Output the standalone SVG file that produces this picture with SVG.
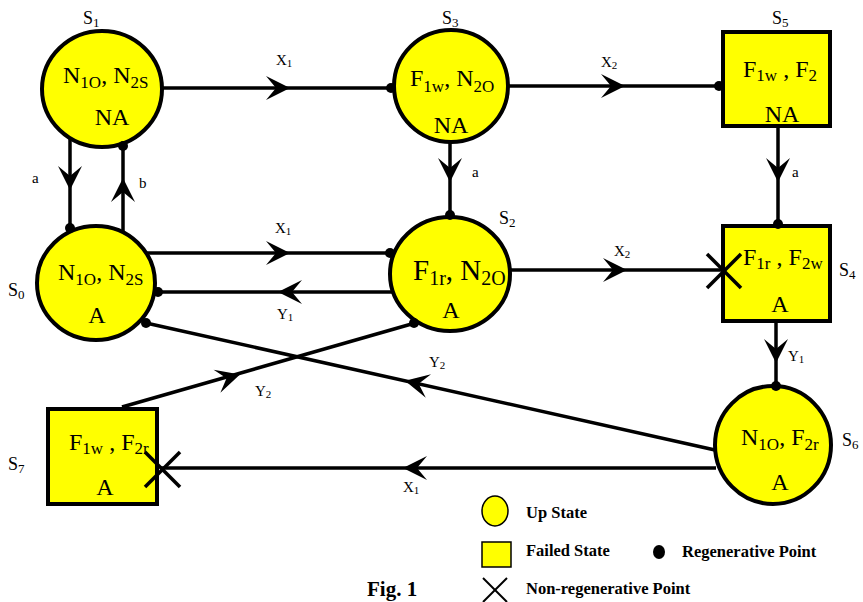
<svg xmlns="http://www.w3.org/2000/svg" xmlns:xlink="http://www.w3.org/1999/xlink" width="863" height="602" viewBox="0 0 863 602">
<style>
.node{fill:#ffff00;stroke:#000;stroke-width:4}
.edge{stroke:#000;stroke-width:3.5;fill:none}
.dot{fill:#000}
.xm{stroke:#000;stroke-width:3.5}
text{font-family:"Liberation Serif","Times New Roman",serif;fill:#000}
.nt{font-size:24px}
.nb{font-size:29px}
.sub{font-size:17px}
.subb{font-size:20px}
.sl{font-size:18px}
.ss{font-size:13px}
.el{font-size:15px}
.es{font-size:11px}
.lg{font-size:16.5px;font-weight:bold}
.fig{font-size:21px;font-weight:bold}
</style>
<defs>
<path id="ah" d="M0,0 L-24,-12 L-14,0 L-24,12 Z" fill="#000"/>
</defs>
<g id="S1">
<ellipse class="node" cx="102" cy="89" rx="60" ry="58"/>
<text class="nt" x="63" y="83">N<tspan class="sub" dy="5">1O</tspan><tspan dy="-5">, N</tspan><tspan class="sub" dy="5">2S</tspan></text>
<text class="nt" x="112" y="125" text-anchor="middle">NA</text>
<text class="sl" x="83" y="24">S<tspan class="ss" dy="3">1</tspan></text>
</g>
<g id="S3">
<ellipse class="node" cx="451" cy="86" rx="57" ry="56"/>
<text class="nt" x="410" y="86">F<tspan class="sub" dy="6">1w</tspan><tspan dy="-6">, N</tspan><tspan class="sub" dy="6">2O</tspan></text>
<text class="nt" x="451" y="133" text-anchor="middle">NA</text>
<text class="sl" x="442" y="24">S<tspan class="ss" dy="3">3</tspan></text>
</g>
<g id="S5">
<rect class="node" x="723" y="32" width="107" height="94"/>
<text class="nt" x="743" y="77">F<tspan class="sub" dy="4">1w</tspan><tspan dy="-4"> , F</tspan><tspan class="sub" dy="4">2</tspan></text>
<text class="nt" x="782" y="122" text-anchor="middle">NA</text>
<text class="sl" x="772" y="24">S<tspan class="ss" dy="3">5</tspan></text>
</g>
<g id="S0">
<ellipse class="node" cx="96" cy="283" rx="59" ry="57"/>
<text class="nt" x="58" y="280">N<tspan class="sub" dy="5">1O</tspan><tspan dy="-5">, N</tspan><tspan class="sub" dy="5">2S</tspan></text>
<text class="nt" x="97" y="323" text-anchor="middle">A</text>
<text class="sl" x="8" y="296">S<tspan class="ss" dy="3">0</tspan></text>
</g>
<g id="S2">
<ellipse class="node" cx="450" cy="274" rx="60" ry="57"/>
<text class="nb" x="413" y="280">F<tspan class="subb" dy="5">1r</tspan><tspan dy="-5">, N</tspan><tspan class="subb" dy="5">2O</tspan></text>
<text class="nt" x="451" y="318" text-anchor="middle">A</text>
<text class="sl" x="499" y="224">S<tspan class="ss" dy="3">2</tspan></text>
</g>
<g id="S4">
<rect class="node" x="723" y="226" width="107" height="95"/>
<text class="nt" x="743" y="265">F<tspan class="sub" dy="4">1r</tspan><tspan dy="-4"> , F</tspan><tspan class="sub" dy="4">2w</tspan></text>
<text class="nt" x="780" y="312" text-anchor="middle">A</text>
<text class="sl" x="839" y="276">S<tspan class="ss" dy="3">4</tspan></text>
</g>
<g id="S6">
<ellipse class="node" cx="773" cy="445" rx="58" ry="59"/>
<text class="nt" x="741" y="445">N<tspan class="sub" dy="5">1O</tspan><tspan dy="-5">, F</tspan><tspan class="sub" dy="5">2r</tspan></text>
<text class="nt" x="780" y="490" text-anchor="middle">A</text>
<text class="sl" x="842" y="446">S<tspan class="ss" dy="3">6</tspan></text>
</g>
<g id="S7">
<rect class="node" x="48" y="409" width="109" height="95"/>
<text class="nt" x="69" y="450">F<tspan class="sub" dy="4">1w</tspan><tspan dy="-4"> , F</tspan><tspan class="sub" dy="4">2r</tspan></text>
<text class="nt" x="105" y="495" text-anchor="middle">A</text>
<text class="sl" x="8" y="470">S<tspan class="ss" dy="3">7</tspan></text>
</g>
<g id="connectors">
<line class="edge" x1="162" y1="88" x2="392" y2="88"/>
<use xlink:href="#ah" transform="translate(290,88)"/>
<circle class="dot" cx="391" cy="88" r="5"/>
<line class="edge" x1="508" y1="86" x2="721" y2="86"/>
<use xlink:href="#ah" transform="translate(625,86)"/>
<circle class="dot" cx="719" cy="86" r="5"/>
<line class="edge" x1="70" y1="139" x2="70" y2="230"/>
<use xlink:href="#ah" transform="translate(70,190) rotate(90)"/>
<circle class="dot" cx="70" cy="228" r="5"/>
<line class="edge" x1="123" y1="231" x2="123" y2="145"/>
<use xlink:href="#ah" transform="translate(123,178) rotate(-90)"/>
<circle class="dot" cx="123" cy="146" r="5"/>
<line class="edge" x1="450" y1="143" x2="450" y2="217"/>
<use xlink:href="#ah" transform="translate(450,182) rotate(90)"/>
<circle class="dot" cx="450" cy="215" r="5"/>
<line class="edge" x1="778" y1="128" x2="778" y2="224"/>
<use xlink:href="#ah" transform="translate(778,182) rotate(90)"/>
<circle class="dot" cx="778" cy="224" r="5"/>
<line class="edge" x1="147" y1="253" x2="392" y2="253"/>
<use xlink:href="#ah" transform="translate(290,253)"/>
<circle class="dot" cx="390" cy="253" r="5"/>
<line class="edge" x1="392" y1="292" x2="157" y2="292"/>
<use xlink:href="#ah" transform="translate(278,292) rotate(180)"/>
<circle class="dot" cx="158" cy="292" r="5"/>
<line class="edge" x1="511" y1="270" x2="723" y2="270"/>
<use xlink:href="#ah" transform="translate(627,270)"/>
<line class="xm" x1="707" y1="254" x2="741" y2="288"/>
<line class="xm" x1="707" y1="288" x2="741" y2="254"/>
<line class="edge" x1="776" y1="323" x2="776" y2="387"/>
<use xlink:href="#ah" transform="translate(776,363) rotate(90)"/>
<circle class="dot" cx="776" cy="386" r="5"/>
<line class="edge" x1="715" y1="450" x2="146" y2="323"/>
<use xlink:href="#ah" transform="translate(405,380.8) rotate(192.6)"/>
<circle class="dot" cx="146" cy="323" r="5"/>
<line class="edge" x1="122" y1="407" x2="415" y2="323"/>
<use xlink:href="#ah" transform="translate(240,374.4) rotate(-16.4)"/>
<circle class="dot" cx="414" cy="323" r="5"/>
<line class="edge" x1="716" y1="468" x2="160" y2="468"/>
<use xlink:href="#ah" transform="translate(403,468) rotate(180)"/>
<line class="xm" x1="145" y1="452" x2="180" y2="487"/>
<line class="xm" x1="145" y1="487" x2="180" y2="452"/>
<text class="el" x="276" y="65">X<tspan class="es" dy="2">1</tspan></text>
<text class="el" x="601" y="67">X<tspan class="es" dy="2">2</tspan></text>
<text class="el" x="32" y="183">a</text>
<text class="el" x="139" y="188">b</text>
<text class="el" x="472" y="177">a</text>
<text class="el" x="792" y="177">a</text>
<text class="el" x="275" y="233">X<tspan class="es" dy="2">1</tspan></text>
<text class="el" x="277" y="319">Y<tspan class="es" dy="2">1</tspan></text>
<text class="el" x="614" y="256">X<tspan class="es" dy="2">2</tspan></text>
<text class="el" x="788" y="361">Y<tspan class="es" dy="2">1</tspan></text>
<text class="el" x="429" y="367">Y<tspan class="es" dy="2">2</tspan></text>
<text class="el" x="255" y="396">Y<tspan class="es" dy="2">2</tspan></text>
<text class="el" x="403" y="492">X<tspan class="es" dy="2">1</tspan></text>
</g>
<g id="legend">
<ellipse fill="#ffff00" stroke="#000" stroke-width="1.5" cx="495" cy="511" rx="13" ry="15"/>
<text class="lg" x="526" y="518">Up State</text>
<rect fill="#ffff00" stroke="#000" stroke-width="1.5" x="482" y="542" width="29" height="25"/>
<text class="lg" x="526" y="556">Failed State</text>
<ellipse class="dot" cx="659" cy="552" rx="6" ry="7"/>
<text class="lg" x="682" y="557">Regenerative Point</text>
<line stroke="#000" stroke-width="2" x1="483" y1="578" x2="507" y2="602"/>
<line stroke="#000" stroke-width="2" x1="483" y1="602" x2="507" y2="578"/>
<text class="lg" x="526" y="594">Non-regenerative Point</text>
<text class="fig" x="367" y="596">Fig. 1</text>
</g>
</svg>
